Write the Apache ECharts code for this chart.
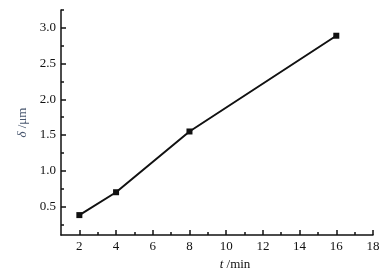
<!DOCTYPE html>
<html>
<head>
<meta charset="utf-8">
<script src="https://cdn.jsdelivr.net/npm/echarts@6/dist/echarts.min.js"></script>
<style>html,body{margin:0;padding:0;background:#fff}#c{width:389px;height:276px}</style>
</head>
<body>
<div id="c"></div>
<script>
var times = [2, 4, 8, 16];
var delta = [0.38, 0.70, 1.55, 2.89];
var xTickLabels = [2, 4, 6, 8, 10, 12, 14, 16, 18];
var xMinorTicks = [3, 5, 7, 9, 11, 13, 15, 17];
var yTickLabels = [0.5, 1.0, 1.5, 2.0, 2.5, 3.0];
var yMinorTicks = [0.25, 0.75, 1.25, 1.75, 2.25, 2.75, 3.25];

var font = "'Liberation Serif', 'Times New Roman', serif";
var chart = echarts.init(document.getElementById('c'));
var lineStyle = {color: '#111', width: 1.5};
chart.setOption({
  animation: false,
  grid: {left: 61, right: 16, top: 10, bottom: 38},
  xAxis: [{
    type: 'value', min: 1, max: 18,
    axisLine: {show: true, lineStyle: lineStyle},
    axisTick: {show: true, inside: true, length: 5, lineStyle: lineStyle, customValues: xTickLabels},
    axisLabel: {customValues: xTickLabels, color: '#111', fontFamily: font, fontSize: 13, margin: 5},
    splitLine: {show: false},
    name: '{i|t} /min',
    nameLocation: 'middle',
    nameGap: 22,
    nameTextStyle: {color: '#111', fontFamily: font, fontSize: 13, padding: [0, 0, 0, 36],
      rich: {i: {fontStyle: 'italic', fontFamily: font, fontSize: 13, color: '#111'}}}
  }, {
    type: 'value', min: 1, max: 18, position: 'bottom',
    axisLine: {show: false},
    axisTick: {show: true, inside: true, length: 3, lineStyle: lineStyle, customValues: xMinorTicks},
    axisLabel: {show: false},
    splitLine: {show: false}
  }],
  yAxis: [{
    type: 'value', min: 0.1, max: 3.25,
    axisLine: {show: true, lineStyle: lineStyle},
    axisTick: {show: true, inside: true, length: 5, lineStyle: lineStyle, customValues: yTickLabels},
    axisLabel: {customValues: yTickLabels, color: '#111', fontFamily: font, fontSize: 13, margin: 5,
      formatter: function (v) { return v.toFixed(1); }},
    splitLine: {show: false},
    name: '{i|δ} /μm',
    nameLocation: 'middle',
    nameGap: 32,
    nameTextStyle: {color: '#4a5870', fontFamily: font, fontSize: 13,
      rich: {i: {fontStyle: 'italic', fontFamily: font, fontSize: 13, color: '#4a5870'}}}
  }, {
    type: 'value', min: 0.1, max: 3.25, position: 'left',
    axisLine: {show: false},
    axisTick: {show: true, inside: true, length: 3, lineStyle: lineStyle, customValues: yMinorTicks},
    axisLabel: {show: false},
    splitLine: {show: false}
  }],
  series: [{
    type: 'line',
    xAxisIndex: 0, yAxisIndex: 0,
    data: times.map(function (t, i) { return [t, delta[i]]; }),
    symbol: 'rect', symbolSize: 6,
    itemStyle: {color: '#111'},
    lineStyle: {color: '#111', width: 2}
  }]
});
</script>
</body>
</html>
